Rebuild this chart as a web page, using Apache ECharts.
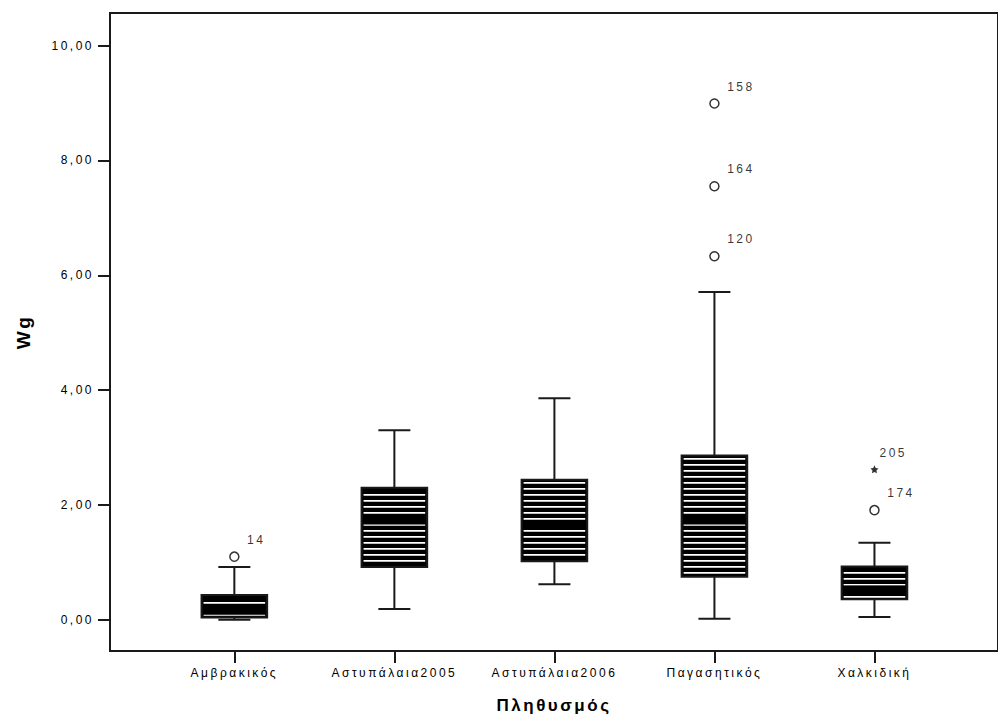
<!DOCTYPE html>
<html>
<head>
<meta charset="utf-8">
<script src="https://cdn.jsdelivr.net/npm/echarts@6/dist/echarts.min.js"></script>
<style>
  html, body { margin: 0; padding: 0; background: #fff; }
  #chart { width: 998px; height: 719px; }
  #chart text { letter-spacing: 2.5px; }
</style>
</head>
<body>
<div id="chart"></div>
<script>
// Wg per population: five-number summaries for each box
const categories = ['Αμβρακικός', 'Αστυπάλαια2005', 'Αστυπάλαια2006', 'Παγασητικός', 'Χαλκιδική'];
const whiskerLow  = [0.00, 0.19, 0.62, 0.02, 0.05];
const quartile1   = [0.04, 0.92, 1.02, 0.75, 0.36];
const medians     = [0.16, 1.73, 1.66, 1.73, 0.53];
const quartile3   = [0.43, 2.30, 2.44, 2.86, 0.93];
const whiskerHigh = [0.92, 3.30, 3.86, 5.71, 1.34];

// Outliers (circles) and extreme values (stars), with case numbers
const outlierGroup = [0, 3, 3, 3, 4];
const outlierValue = [1.10, 8.99, 7.55, 6.33, 1.91];
const outlierCase  = ['14', '158', '164', '120', '174'];
const extremeGroup = [4];
const extremeValue = [2.62];
const extremeCase  = ['205'];

const yTicks = [0, 2, 4, 6, 8, 10];
const xTicks = [0, 1, 2, 3, 4];

const boxData = categories.map((c, i) =>
  [i, whiskerLow[i], quartile1[i], medians[i], quartile3[i], whiskerHigh[i]]);
const outlierData = outlierGroup.map((g, i) => [g, outlierValue[i]]);
const extremeData = extremeGroup.map((g, i) => [g, extremeValue[i]]);

const ink = '#1a1a1a';
const font = 'Liberation Sans, Arial, sans-serif';

function renderBox(params, api) {
  const x = api.value(0);
  const pLow = api.coord([x, api.value(1)]);
  const pQ1 = api.coord([x, api.value(2)]);
  const pMed = api.coord([x, api.value(3)]);
  const pQ3 = api.coord([x, api.value(4)]);
  const pHigh = api.coord([x, api.value(5)]);
  const unit = api.size([1, 0])[0];
  const boxW = unit * 0.41;
  const capW = unit * 0.2;
  const cx = pQ1[0];
  const line = { stroke: ink, lineWidth: 2 };
  const children = [
    { type: 'line', shape: { x1: cx, y1: pHigh[1], x2: cx, y2: pQ3[1] }, style: line },
    { type: 'line', shape: { x1: cx, y1: pQ1[1], x2: cx, y2: pLow[1] }, style: line },
    { type: 'line', shape: { x1: cx - capW / 2, y1: pHigh[1], x2: cx + capW / 2, y2: pHigh[1] }, style: line },
    { type: 'line', shape: { x1: cx - capW / 2, y1: pLow[1], x2: cx + capW / 2, y2: pLow[1] }, style: line }
  ];
  const top = pQ3[1], bottom = pQ1[1], left = cx - boxW / 2;
  children.push({ type: 'rect', shape: { x: left, y: top, width: boxW, height: bottom - top }, style: { fill: '#000' } });
  // horizontal hatch lines of the box fill
  for (let yy = Math.ceil(top / 6) * 6 + 2; yy < bottom - 3; yy += 6) {
    children.push({ type: 'rect', shape: { x: left + 2, y: yy, width: boxW - 4, height: 1.8 }, style: { fill: '#fff' } });
  }
  // median: heavy black band
  children.push({ type: 'rect', shape: { x: left, y: pMed[1] - 4, width: boxW, height: 8 }, style: { fill: '#000' } });
  children.push({ type: 'rect', shape: { x: left, y: top, width: boxW, height: bottom - top }, style: { fill: 'none', stroke: ink, lineWidth: 2 } });
  return { type: 'group', children };
}

const chart = echarts.init(document.getElementById('chart'), null, { renderer: 'svg' });
chart.setOption({
  backgroundColor: '#fff',
  animation: false,
  grid: { left: 110, top: 13, right: -12, bottom: 68, show: true, borderColor: ink, borderWidth: 2, backgroundColor: 'transparent' },
  xAxis: {
    type: 'value',
    min: -0.777,
    max: 4.772,
    name: 'Πληθυσμός',
    nameLocation: 'middle',
    nameGap: 46,
    nameTextStyle: { fontFamily: font, fontSize: 17, fontWeight: 'bold', color: '#000' },
    splitLine: { show: false },
    axisLine: { show: true, onZero: false, lineStyle: { color: ink, width: 2 } },
    axisTick: { show: true, customValues: xTicks, length: 12, lineStyle: { color: ink, width: 2 } },
    axisLabel: {
      customValues: xTicks,
      formatter: v => categories[Math.round(v)] || '',
      margin: 16,
      fontFamily: font, fontSize: 12, color: '#000'
    }
  },
  yAxis: {
    type: 'value',
    min: -0.543,
    max: 10.567,
    name: 'Wg',
    nameLocation: 'middle',
    nameGap: 77,
    nameTextStyle: { fontFamily: font, fontSize: 19, fontWeight: 'bold', color: '#000' },
    splitLine: { show: false },
    axisLine: { show: true, onZero: false, lineStyle: { color: ink, width: 2 } },
    axisTick: { show: true, customValues: yTicks, length: 12, lineStyle: { color: ink, width: 2 } },
    axisLabel: {
      customValues: yTicks,
      formatter: v => v.toFixed(2).replace('.', ','),
      margin: 16,
      fontFamily: font, fontSize: 12, color: '#000'
    }
  },
  series: [
    {
      type: 'custom',
      renderItem: renderBox,
      encode: { x: 0, y: [1, 2, 3, 4, 5] },
      data: boxData,
      z: 2
    },
    {
      type: 'scatter',
      data: outlierData,
      symbol: 'circle',
      symbolSize: 9,
      itemStyle: { color: '#fff', borderColor: '#000', borderWidth: 1.5 },
      label: {
        show: true,
        position: 'right',
        distance: 7.5,
        offset: [0, -17],
        formatter: p => outlierCase[p.dataIndex],
        fontFamily: font, fontSize: 12, color: '#000'
      },
      z: 3
    },
    {
      type: 'scatter',
      data: extremeData,
      symbol: 'path://M0,-10 L2.9,-4 9.5,-3.1 4.7,1.5 5.9,8.1 0,5 -5.9,8.1 -4.7,1.5 -9.5,-3.1 -2.9,-4 Z',
      symbolSize: 8,
      itemStyle: { color: '#000' },
      label: {
        show: true,
        position: 'right',
        distance: 1,
        offset: [0, -16],
        formatter: p => extremeCase[p.dataIndex],
        fontFamily: font, fontSize: 12, color: '#000'
      },
      z: 3
    }
  ]
});
</script>
</body>
</html>
